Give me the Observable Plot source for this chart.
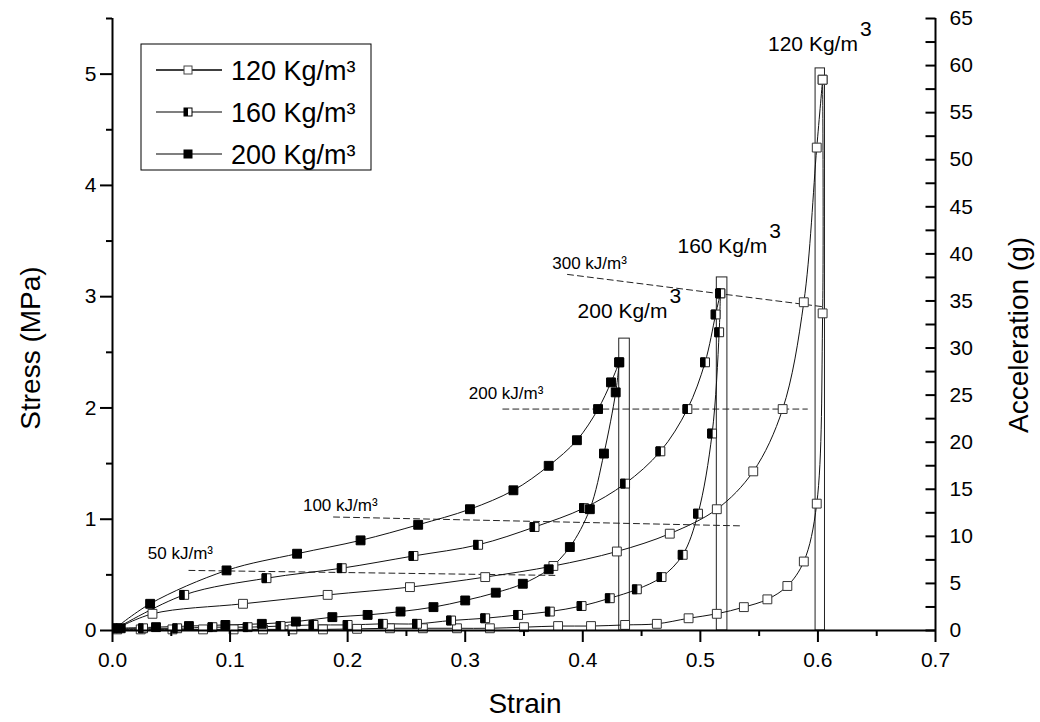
<!DOCTYPE html>
<html><head><meta charset="utf-8">
<script src="https://cdn.jsdelivr.net/npm/d3@7"></script>
<script src="https://cdn.jsdelivr.net/npm/@observablehq/plot@0.6"></script>
<style>body{margin:0;background:#fff;} svg{display:block}</style>
</head><body><div id="chart"></div>
<script>
// ---------- data ----------
const densities = ["120 Kg/m", "160 Kg/m", "200 Kg/m"];

// stress–strain curves (upper branch)
const strainA120 = [0, 0.034, 0.111, 0.183, 0.253, 0.317, 0.375, 0.429, 0.474, 0.514, 0.545, 0.570, 0.588, 0.599, 0.604];
const stressA120 = [0, 0.15, 0.24, 0.32, 0.39, 0.48, 0.58, 0.71, 0.87, 1.09, 1.43, 1.99, 2.95, 4.34, 4.95];
const strainA160 = [0, 0.061, 0.131, 0.195, 0.256, 0.311, 0.359, 0.401, 0.436, 0.466, 0.489, 0.504, 0.513, 0.517];
const stressA160 = [0, 0.32, 0.47, 0.56, 0.67, 0.77, 0.93, 1.10, 1.32, 1.61, 1.99, 2.41, 2.84, 3.03];
const strainA200 = [0, 0.032, 0.097, 0.157, 0.211, 0.260, 0.304, 0.341, 0.371, 0.395, 0.413, 0.424, 0.431];
const stressA200 = [0, 0.24, 0.54, 0.69, 0.81, 0.95, 1.09, 1.26, 1.48, 1.71, 1.99, 2.23, 2.41];

// second (steep) branch of each density
const strainB120 = [0.004, 0.024, 0.051, 0.077, 0.103, 0.128, 0.153, 0.179, 0.208, 0.236, 0.264, 0.293, 0.321, 0.350, 0.379, 0.407, 0.436, 0.463, 0.490, 0.514, 0.537, 0.557, 0.574, 0.588, 0.599, 0.604, 0.604];
const stressB120 = [0.01, 0.01, 0.01, 0.01, 0.01, 0.01, 0.01, 0.01, 0.015, 0.02, 0.02, 0.02, 0.02, 0.03, 0.04, 0.04, 0.05, 0.06, 0.11, 0.15, 0.21, 0.28, 0.40, 0.62, 1.14, 2.85, 4.95];
const strainB160 = [0.004, 0.026, 0.055, 0.085, 0.115, 0.143, 0.171, 0.200, 0.230, 0.259, 0.288, 0.317, 0.345, 0.372, 0.399, 0.423, 0.446, 0.467, 0.485, 0.498, 0.510, 0.516, 0.517];
const stressB160 = [0.02, 0.02, 0.02, 0.03, 0.03, 0.04, 0.05, 0.05, 0.06, 0.06, 0.09, 0.11, 0.14, 0.17, 0.22, 0.29, 0.37, 0.48, 0.68, 1.05, 1.77, 2.68, 3.03];
const strainB200 = [0.007, 0.037, 0.065, 0.096, 0.127, 0.156, 0.187, 0.217, 0.245, 0.273, 0.300, 0.326, 0.349, 0.371, 0.389, 0.406, 0.418, 0.428, 0.431];
const stressB200 = [0.02, 0.03, 0.04, 0.05, 0.06, 0.08, 0.12, 0.14, 0.17, 0.21, 0.27, 0.34, 0.42, 0.55, 0.75, 1.09, 1.59, 2.14, 2.41];

// peak-acceleration bars (g) and their strain span
const barStrainFrom = [0.598, 0.514, 0.431];
const barStrainTo   = [0.606, 0.523, 0.440];
const barPeakG      = [59.7, 37.5, 31.0];

// iso-energy dashed lines
const energyLabels = ["50 kJ/m³", "100 kJ/m³", "200 kJ/m³", "300 kJ/m³"];
const energyStrain = [[0.065, 0.378], [0.188, 0.536], [0.332, 0.591], [0.387, 0.604]];
const energyStress = [[0.54, 0.495], [1.02, 0.94], [1.99, 1.99], [3.20, 2.91]];
const energyLabelStrain = [0.030, 0.162, 0.303, 0.374];
const energyLabelStress = [0.69, 1.12, 2.13, 3.30];

// density annotations above the bars
const densityLabelStrain = [0.634, 0.557, 0.472];
const densityLabelStress = [5.27, 3.45, 2.87];

// axes
const xTicks = [0, 0.1, 0.2, 0.3, 0.4, 0.5, 0.6, 0.7];
const xMinorTicks = [0.05, 0.15, 0.25, 0.35, 0.45, 0.55, 0.65];
const yTicks = [0, 1, 2, 3, 4, 5];
const yMinorTicks = [0.5, 1.5, 2.5, 3.5, 4.5, 5.5];
const accTicks = [0, 5, 10, 15, 20, 25, 30, 35, 40, 45, 50, 55, 60, 65];
const accMinorTicks = [0, 2.5, 5, 7.5, 10, 12.5, 15, 17.5, 20, 22.5, 25, 27.5, 30, 32.5, 35, 37.5, 40, 42.5, 45, 47.5, 50, 52.5, 55, 57.5, 60, 62.5, 65];
const stressMax = 5.5, accMax = 65;
const g2s = stressMax / accMax;

// ---------- build tables ----------
const curves = [];
[[strainA120, stressA120, 0, "A"], [strainA160, stressA160, 1, "A"], [strainA200, stressA200, 2, "A"],
 [strainB120, stressB120, 0, "B"], [strainB160, stressB160, 1, "B"], [strainB200, stressB200, 2, "B"]]
 .forEach(([xs, ys, d, br]) => xs.forEach((x, i) => curves.push({strain: x, stress: ys[i], d, key: br + d, marker: !(x === 0 && ys[i] === 0)})));

const bars = barPeakG.map((g, i) => ({x1: barStrainFrom[i], x2: barStrainTo[i], y2: g * g2s}));
const energy = [];
energyLabels.forEach((l, i) => energyStrain[i].forEach((x, j) => energy.push({strain: x, stress: energyStress[i][j], l})));
const energyText = energyLabels.map((l, i) => ({l, x: energyLabelStrain[i], y: energyLabelStress[i]}));
const densText = densities.map((l, i) => ({l, x: densityLabelStrain[i], y: densityLabelStress[i]}));

const halfLeft = {draw(ctx, size) { const w = Math.sqrt(size); ctx.moveTo(-w/2, -w/2); ctx.lineTo(0, -w/2); ctx.lineTo(0, w/2); ctx.lineTo(-w/2, w/2); ctx.closePath(); }};
const tickIn = {draw(ctx) { ctx.moveTo(-10, 0); ctx.lineTo(0, 0); }};

const FONT = "'Liberation Sans', Arial, Helvetica, sans-serif";
const mk = (d) => curves.filter(c => c.d === d && c.marker);
const R = 5;

const plot = Plot.plot({
  width: 1040, height: 722,
  marginLeft: 112, marginRight: 105, marginTop: 18, marginBottom: 92,
  x: {domain: [0, 0.7], label: null},
  y: {domain: [0, stressMax], label: null},
  style: {fontFamily: FONT, color: "black", background: "white", overflow: "visible"},
  marks: [
    Plot.rect(bars, {x1: "x1", x2: "x2", y1: 0, y2: "y2", fill: "white", stroke: "#222", strokeWidth: 1}),
    Plot.line(energy, {x: "strain", y: "stress", z: "l", stroke: "#222", strokeWidth: 1, strokeDasharray: "6,4"}),
    Plot.line(curves, {x: "strain", y: "stress", z: "key", curve: "catmull-rom", stroke: "#111", strokeWidth: 1}),
    Plot.dot(mk(0), {x: "strain", y: "stress", symbol: "square", r: R, fill: "white", stroke: "#333", strokeWidth: 1}),
    Plot.dot(mk(1), {x: "strain", y: "stress", symbol: "square", r: R, fill: "white", stroke: "#222", strokeWidth: 1}),
    Plot.dot(mk(1), {x: "strain", y: "stress", symbol: halfLeft, r: R, fill: "black", stroke: "black", strokeWidth: 1}),
    Plot.dot(mk(2), {x: "strain", y: "stress", symbol: "square", r: R, fill: "black", stroke: "black", strokeWidth: 1}),
    Plot.text(energyText, {x: "x", y: "y", text: "l", textAnchor: "start", lineAnchor: "middle", fontSize: 17, fill: "black"}),
    Plot.text(densText, {x: "x", y: "y", text: "l", textAnchor: "end", lineAnchor: "middle", fontSize: 21, fill: "black"}),
    Plot.text(densText, {x: "x", y: "y", text: () => "3", textAnchor: "start", lineAnchor: "middle", fontSize: 21, dx: 2, dy: -15, fill: "black"}),
    // axes
    Plot.ruleX([0], {strokeWidth: 2}),
    Plot.ruleX([0.7], {strokeWidth: 2}),
    Plot.ruleY([0], {strokeWidth: 2}),
    Plot.axisX({ticks: xTicks, tickSize: 12, tickPadding: 10, tickFormat: d3.format(".1f"), fontSize: 21, strokeWidth: 2, label: null}),
    Plot.axisX({ticks: xMinorTicks, tickSize: 6, tickFormat: () => "", strokeWidth: 2, label: null}),
    Plot.axisY({ticks: yTicks, anchor: "left", tickSize: 12, tickPadding: 4, tickFormat: d3.format("d"), fontSize: 21, strokeWidth: 2, label: null}),
    Plot.axisY({ticks: yMinorTicks, anchor: "left", tickSize: 6, tickFormat: () => "", strokeWidth: 2, label: null}),
    Plot.axisY({ticks: accTicks.map(g => g * g2s), anchor: "right", tickSize: 0, tickPadding: 14, tickFormat: v => String(Math.round(v / g2s)), fontSize: 21, label: null}),
    Plot.dot(accMinorTicks, {y: g => g * g2s, frameAnchor: "right", symbol: tickIn, fill: "none", stroke: "black", strokeWidth: 2})
  ]
});
document.getElementById("chart").appendChild(plot);

// ---------- axis titles and legend ----------
const svg = d3.select(plot);
const title = (x, y, rot, txt) => svg.append("text").attr("transform", `translate(${x},${y}) rotate(${rot})`)
  .attr("text-anchor", "middle").attr("dy", "0.36em").attr("font-family", FONT).attr("font-size", 28).attr("fill", "black").text(txt);
title(30, 348, -90, "Stress (MPa)");
title(1018, 335, -90, "Acceleration (g)");
title(525, 703, 0, "Strain");

const lg = svg.append("g").attr("font-family", FONT).attr("text-anchor", "start");
lg.append("rect").attr("x", 141).attr("y", 44).attr("width", 230).attr("height", 126).attr("fill", "white").attr("stroke", "black").attr("stroke-width", 1);
const legendLine = ["#000", "#555", "#555"];
densities.forEach((name, i) => {
  const cy = 70 + i * 42;
  lg.append("line").attr("x1", 156).attr("x2", 222).attr("y1", cy).attr("y2", cy).attr("stroke", legendLine[i]).attr("stroke-width", 1.5);
  lg.append("rect").attr("x", 184).attr("y", cy - 4).attr("width", 8).attr("height", 8)
    .attr("fill", i === 2 ? "black" : "white").attr("stroke", i === 0 ? "#444" : "black");
  if (i === 1) lg.append("rect").attr("x", 184).attr("y", cy - 4).attr("width", 4).attr("height", 8).attr("fill", "black");
  lg.append("text").attr("x", 231).attr("y", cy).attr("dy", "0.36em").attr("text-anchor", "start").attr("font-size", 27).attr("fill", "black").text(name + "³");
});
</script></body></html>
